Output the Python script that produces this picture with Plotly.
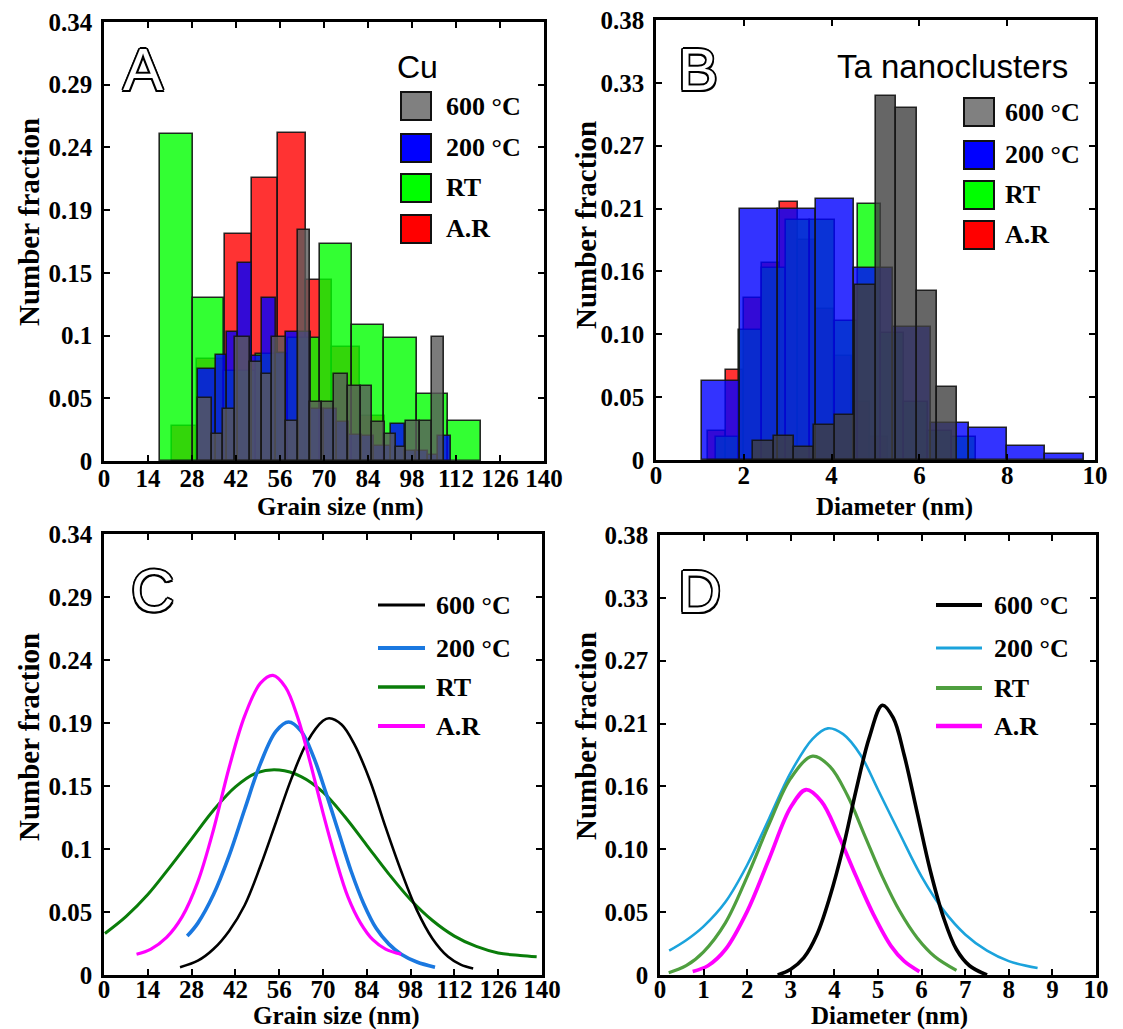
import plotly.graph_objects as go

W, H = 1123, 1029

# ---------------- data ----------------
SERIES = ["600 °C", "200 °C", "RT", "A.R"]

# Panel A : Cu grain size histograms (bin edges in nm, number fraction)
A_AR_edges = [21.5, 29.7, 38.5, 47.0, 55.5, 64.2, 72.6, 81.5, 89.4]
A_AR_frac = [0.027, 0.079, 0.176, 0.219, 0.254, 0.140, 0.088, 0.035]
A_RT_edges = [17.8, 28.2, 38.2, 48.4, 58.4, 68.7, 79.0, 89.2, 99.5, 109.6, 119.8]
A_RT_frac = [0.253, 0.126, 0.070, 0.083, 0.095, 0.168, 0.105, 0.095, 0.052, 0.031]
A_200_edges = [29.8, 35.6, 39.2, 42.7, 47.0, 50.2, 54.6, 57.8, 62.0, 66.0, 70.0, 74.0,
               78.0, 82.0, 86.0, 91.2, 95.8, 99.4, 103.0, 106.4, 110.4]
A_200_frac = [0.071, 0.082, 0.100, 0.153, 0.081, 0.126, 0.084, 0.100, 0.100, 0.040,
              0.040, 0.030, 0.020, 0.019, 0.012, 0.029, 0.008, 0.008, 0.005, 0.019]
A_600_edges = [30.0, 34.3, 37.8, 41.7, 46.5, 50.4, 53.5, 57.8, 61.8, 65.7, 69.4, 73.1,
               77.6, 81.9, 85.4, 89.3, 93.0, 96.2, 100.4, 104.4, 108.3]
A_600_frac = [0.049, 0.021, 0.040, 0.096, 0.077, 0.067, 0.096, 0.031, 0.179, 0.046,
              0.046, 0.067, 0.058, 0.058, 0.030, 0.021, 0.011, 0.031, 0.031, 0.096]

# Panel B : Ta nanocluster diameter histograms (nm, number fraction)
B_AR_edges = [1.19, 1.60, 2.01, 2.42, 2.83, 3.24, 3.65, 4.06, 4.47, 4.88, 5.29]
B_AR_frac = [0.025, 0.078, 0.140, 0.170, 0.223, 0.190, 0.130, 0.090, 0.050, 0.020]
B_RT_edges = [1.36, 1.90, 2.42, 2.96, 3.50, 4.07, 4.61, 5.12, 5.66, 6.20, 6.74, 7.28]
B_RT_frac = [0.020, 0.112, 0.166, 0.207, 0.207, 0.120, 0.221, 0.110, 0.050, 0.025, 0.020]
B_200_edges = [1.04, 1.91, 2.78, 3.65, 4.52, 5.39, 6.26, 7.13, 8.00, 8.87, 9.74]
B_200_frac = [0.068, 0.217, 0.217, 0.225, 0.166, 0.115, 0.032, 0.028, 0.012, 0.005]
B_600_edges = [2.22, 2.69, 3.15, 3.61, 4.08, 4.54, 5.01, 5.47, 5.94, 6.39, 6.85]
B_600_frac = [0.016, 0.021, 0.011, 0.030, 0.039, 0.151, 0.314, 0.304, 0.146, 0.063]

# Panel C : Cu fitted distributions (grain size nm, number fraction)
C_600_x = [24.3, 30, 35, 40, 45, 50, 55, 60, 65, 70, 72, 76, 80, 85, 90, 95, 100, 105, 110, 114, 118]
C_600_y = [0.006, 0.011, 0.020, 0.034, 0.054, 0.084, 0.118, 0.152, 0.180, 0.196, 0.198,
           0.193, 0.178, 0.150, 0.114, 0.080, 0.050, 0.028, 0.014, 0.008, 0.005]
C_200_x = [26.6, 30, 35, 40, 45, 50, 55, 59, 63, 67, 71, 75, 79, 83, 87, 91, 95, 100, 105.8]
C_200_y = [0.030, 0.040, 0.062, 0.092, 0.128, 0.163, 0.188, 0.195, 0.188, 0.168, 0.140,
           0.110, 0.080, 0.055, 0.036, 0.024, 0.016, 0.010, 0.006]
C_RT_x = [0.3, 7, 14, 21, 28, 35, 42, 49, 56, 63, 70, 77, 84, 91, 98, 105, 112, 119, 126, 133, 138.3]
C_RT_y = [0.032, 0.045, 0.062, 0.083, 0.105, 0.127, 0.145, 0.156, 0.158, 0.153, 0.141,
          0.122, 0.100, 0.078, 0.058, 0.042, 0.030, 0.022, 0.017, 0.015, 0.014]
C_AR_x = [10.4, 15, 20, 25, 30, 35, 40, 45, 50, 54, 58, 62, 66, 70, 74, 78, 82, 86, 90, 95]
C_AR_y = [0.016, 0.020, 0.029, 0.045, 0.072, 0.112, 0.160, 0.200, 0.225, 0.231, 0.222,
          0.198, 0.163, 0.125, 0.090, 0.060, 0.040, 0.027, 0.020, 0.016]

# Panel D : Ta fitted distributions (diameter nm, number fraction)
D_600_x = [2.7, 3.0, 3.3, 3.6, 3.9, 4.2, 4.5, 4.8, 5.1, 5.35, 5.6, 5.9, 6.2, 6.5, 6.8, 7.1, 7.5]
D_600_y = [0.000, 0.005, 0.015, 0.035, 0.068, 0.110, 0.160, 0.205, 0.233, 0.222, 0.190,
           0.140, 0.090, 0.050, 0.022, 0.008, 0.000]
D_200_x = [0.21, 0.6, 1.0, 1.5, 2.0, 2.5, 3.0, 3.5, 3.85, 4.2, 4.6, 5.0, 5.5, 6.0, 6.5, 7.0, 7.5, 8.0, 8.66]
D_200_y = [0.021, 0.030, 0.042, 0.063, 0.095, 0.135, 0.175, 0.204, 0.213, 0.208, 0.190,
           0.160, 0.122, 0.085, 0.056, 0.035, 0.021, 0.012, 0.006]
D_RT_x = [0.2, 0.6, 1.0, 1.5, 2.0, 2.5, 3.0, 3.5, 3.9, 4.3, 4.7, 5.1, 5.5, 5.9, 6.3, 6.8]
D_RT_y = [0.002, 0.008, 0.020, 0.045, 0.085, 0.130, 0.170, 0.189, 0.180, 0.155, 0.120,
          0.085, 0.055, 0.032, 0.016, 0.004]
D_AR_x = [0.75, 1.1, 1.5, 2.0, 2.5, 3.0, 3.35, 3.7, 4.1, 4.5, 4.9, 5.3, 5.6, 5.95]
D_AR_y = [0.003, 0.008, 0.022, 0.055, 0.100, 0.145, 0.160, 0.150, 0.120, 0.085, 0.052,
          0.025, 0.012, 0.003]

# axis tick labels and titles
CU_XTICKS = [0, 14, 28, 42, 56, 70, 84, 98, 112, 126, 140]
TA_XTICKS = [0, 2, 4, 6, 8, 10]
TA_XTICKS_D = [0, 1, 2, 3, 4, 5, 6, 7, 8, 9, 10]
CU_YTEXT = ["0", "0.05", "0.1", "0.15", "0.19", "0.24", "0.29", "0.34"]
TA_YTEXT = ["0", "0.05", "0.10", "0.16", "0.21", "0.27", "0.33", "0.38"]
X_TITLES = {"A": "Grain size (nm)", "B": "Diameter (nm)", "C": "Grain size (nm)", "D": "Diameter (nm)"}
Y_TITLE = "Number fraction"

# ---------------- styling ----------------
SERIF = "Liberation Serif"
SANS = "Liberation Sans"
HIST_COL = {"600 °C": "rgba(90,90,90,0.8)", "200 °C": "rgba(0,0,255,0.8)",
            "RT": "rgba(0,255,0,0.8)", "A.R": "rgba(255,0,0,0.8)"}
HIST_COL_B600 = "rgba(64,64,64,0.8)"
LEG_PATCH = {"600 °C": "#808080", "200 °C": "#0000ff", "RT": "#00ff00", "A.R": "#ff0000"}
C_LINE = {"600 °C": ("#000000", 2.6), "200 °C": ("#1a78e0", 3.6),
          "RT": ("#0a7d0a", 3.0), "A.R": ("#ff00ff", 3.2)}
D_LINE = {"600 °C": ("#000000", 3.6), "200 °C": ("#1ba3dc", 2.6),
          "RT": ("#4f9f3f", 3.2), "A.R": ("#ff00ff", 3.8)}

fig = go.Figure()


def add_hist(edges, vals, color, xa, ya):
    centers = [(a + b) / 2 for a, b in zip(edges[:-1], edges[1:])]
    widths = [b - a for a, b in zip(edges[:-1], edges[1:])]
    fig.add_trace(go.Bar(x=centers, y=vals, width=widths, base=0,
                         marker=dict(color=color, line=dict(color="rgba(20,20,20,0.9)", width=1.6)),
                         xaxis=xa, yaxis=ya, showlegend=False, hoverinfo="skip"))


# Panel A (draw order: A.R, RT, 200, 600)
add_hist(A_AR_edges, A_AR_frac, HIST_COL["A.R"], "x", "y")
add_hist(A_RT_edges, A_RT_frac, HIST_COL["RT"], "x", "y")
add_hist(A_200_edges, A_200_frac, HIST_COL["200 °C"], "x", "y")
add_hist(A_600_edges, A_600_frac, HIST_COL["600 °C"], "x", "y")
# Panel B
add_hist(B_AR_edges, B_AR_frac, HIST_COL["A.R"], "x2", "y2")
add_hist(B_RT_edges, B_RT_frac, HIST_COL["RT"], "x2", "y2")
add_hist(B_200_edges, B_200_frac, HIST_COL["200 °C"], "x2", "y2")
add_hist(B_600_edges, B_600_frac, HIST_COL_B600, "x2", "y2")


def add_curve(xs, ys, style, xa, ya):
    col, w = style
    fig.add_trace(go.Scatter(x=xs, y=ys, mode="lines", line=dict(color=col, width=w, shape="spline", smoothing=1.0),
                             xaxis=xa, yaxis=ya, showlegend=False, hoverinfo="skip"))


add_curve(C_RT_x, C_RT_y, C_LINE["RT"], "x3", "y3")
add_curve(C_600_x, C_600_y, C_LINE["600 °C"], "x3", "y3")
add_curve(C_200_x, C_200_y, C_LINE["200 °C"], "x3", "y3")
add_curve(C_AR_x, C_AR_y, C_LINE["A.R"], "x3", "y3")

add_curve(D_200_x, D_200_y, D_LINE["200 °C"], "x4", "y4")
add_curve(D_RT_x, D_RT_y, D_LINE["RT"], "x4", "y4")
add_curve(D_AR_x, D_AR_y, D_LINE["A.R"], "x4", "y4")
add_curve(D_600_x, D_600_y, D_LINE["600 °C"], "x4", "y4")

# ---------------- axes ----------------
def fx(px):
    return px / W


def fy(py):
    return 1 - py / H


DOM = {"A": ((104, 544), (22, 461)), "B": ((656, 1095), (20, 460)),
       "C": ((104, 542), (534, 975)), "D": ((660, 1096), (535, 975))}

tickfont = dict(family=SERIF, size=25, color="black", weight="bold")
titlefont = dict(family=SERIF, size=25, color="black", weight="bold")
ytitlefont = dict(family=SERIF, size=29, color="black", weight="bold")


def xax(key, rng, ticks, anchor, standoff):
    (x0, x1), _ = DOM[key]
    return dict(domain=[fx(x0), fx(x1)], range=rng, tickvals=ticks, ticktext=[str(t) for t in ticks],
                anchor=anchor, showline=True, linecolor="black", linewidth=2.6, mirror="ticks",
                ticks="inside", ticklen=6, tickwidth=2.2, tickcolor="black", showgrid=False,
                zeroline=False, tickfont=tickfont, fixedrange=True, automargin=False,
                ticklabelstandoff=standoff)


def yax(key, top, text, anchor):
    _, (y0, y1) = DOM[key]
    n = len(text) - 1
    vals = [top * i / n for i in range(n + 1)]
    return dict(domain=[fy(y1), fy(y0)], range=[0, top], tickvals=vals, ticktext=text,
                anchor=anchor, showline=True, linecolor="black", linewidth=2.6, mirror="ticks",
                ticks="inside", ticklen=6, tickwidth=2.2, tickcolor="black", showgrid=False,
                zeroline=False, tickfont=tickfont, fixedrange=True, automargin=False,
                ticklabelstandoff=4)


fig.update_layout(
    template="none",
    xaxis=xax("A", [0, 140], CU_XTICKS, "y", -7),
    yaxis=yax("A", 0.34, CU_YTEXT, "x"),
    xaxis2=xax("B", [0, 10], TA_XTICKS, "y2", -9),
    yaxis2=yax("B", 0.38, TA_YTEXT, "x2"),
    xaxis3=xax("C", [0, 140], CU_XTICKS, "y3", -10),
    yaxis3=yax("C", 0.34, CU_YTEXT, "x3"),
    xaxis4=xax("D", [0, 10], TA_XTICKS_D, "y4", -10),
    yaxis4=yax("D", 0.38, TA_YTEXT, "x4"),
    barmode="overlay", bargap=0,
    width=W, height=H, margin=dict(l=0, r=0, t=0, b=0, pad=0),
    paper_bgcolor="white", plot_bgcolor="white", showlegend=False,
)

shapes = []
annotations = []

# axis titles
for key, (cx, cy) in {"A": (340, 507), "B": (894, 507), "C": (336, 1016), "D": (889, 1016)}.items():
    annotations.append(dict(text=X_TITLES[key], x=fx(cx), y=fy(cy), xref="paper", yref="paper",
                            xanchor="center", yanchor="middle", showarrow=False, font=titlefont))
for key, (cx, cy) in {"A": (29, 222), "B": (586, 225), "C": (29, 737), "D": (586, 736)}.items():
    annotations.append(dict(text=Y_TITLE, x=fx(cx), y=fy(cy), xref="paper", yref="paper", textangle=-90,
                            xanchor="center", yanchor="middle", showarrow=False, font=ytitlefont))

OUTLINE = ("-1.5px -1.5px 0 #000, 1.5px -1.5px 0 #000, -1.5px 1.5px 0 #000, 1.5px 1.5px 0 #000, "
           "0 1.8px 0 #000, 0 -1.8px 0 #000, 1.8px 0 0 #000, -1.8px 0 0 #000")
for letter, (cx, cy) in {"A": (143, 69), "B": (698, 69), "C": (152, 590), "D": (699, 591)}.items():
    annotations.append(dict(text=letter, x=fx(cx), y=fy(cy), xref="paper", yref="paper",
                            xanchor="center", yanchor="middle", showarrow=False,
                            font=dict(family=SANS, size=60, color="white", shadow=OUTLINE)))

annotations.append(dict(text="Cu", x=fx(417), y=fy(67), xref="paper", yref="paper", xanchor="center",
                        yanchor="middle", showarrow=False, font=dict(family=SANS, size=32, color="black")))
annotations.append(dict(text="Ta nanoclusters", x=fx(952), y=fy(67), xref="paper", yref="paper",
                        xanchor="center", yanchor="middle", showarrow=False,
                        font=dict(family=SANS, size=33, color="black")))

legfont = dict(family=SERIF, size=26, color="black", weight="bold")

# histogram legends (patches)
for (sx0, sx1, tx, rows) in [(401, 431, 444, [106, 148, 188, 229]), (964, 994, 1003, [112, 155, 195, 235])]:
    for name, cy in zip(SERIES, rows):
        shapes.append(dict(type="rect", xref="paper", yref="paper", x0=fx(sx0), x1=fx(sx1),
                           y0=fy(cy + 14), y1=fy(cy - 14), fillcolor=LEG_PATCH[name],
                           line=dict(color="#111", width=2)))
        annotations.append(dict(text=name, x=fx(tx), y=fy(cy), xref="paper", yref="paper",
                                xanchor="left", yanchor="middle", showarrow=False, font=legfont))

# curve legends (lines)
for (lx0, lx1, tx, rows, sty) in [(378, 425, 434, [605, 648, 687, 726], C_LINE),
                                   (936, 982, 992, [605, 648, 688, 726], D_LINE)]:
    for name, cy in zip(SERIES, rows):
        col, w = sty[name]
        shapes.append(dict(type="line", xref="paper", yref="paper", x0=fx(lx0), x1=fx(lx1),
                           y0=fy(cy), y1=fy(cy), line=dict(color=col, width=w + 0.6)))
        annotations.append(dict(text=name, x=fx(tx), y=fy(cy), xref="paper", yref="paper",
                                xanchor="left", yanchor="middle", showarrow=False, font=legfont))

fig.update_layout(shapes=shapes, annotations=annotations)
fig.write_html("out.html")
